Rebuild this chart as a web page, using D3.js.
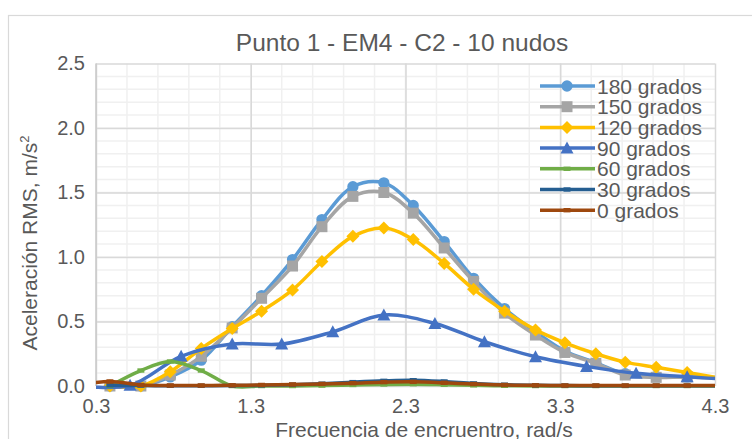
<!DOCTYPE html>
<html>
<head>
<meta charset="utf-8">
<script src="https://cdnjs.cloudflare.com/ajax/libs/d3/7.8.5/d3.min.js"></script>
<style>
    body { margin: 0; background: #fff; }
    text { font-family: "Liberation Sans", Arial, sans-serif; fill: #595959; }
</style>
</head>
<body>
<svg id="chart" width="752" height="439"></svg>
<script>

// frecuencias de encuentro (rad/s)
var xHead = [0.39, 0.59, 0.78, 0.98, 1.18, 1.37, 1.57, 1.76, 1.96, 2.16, 2.35, 2.55, 2.74, 2.94, 3.14, 3.33, 3.53, 3.72, 3.92, 4.12, 4.31];
var x90 = [0.19, 0.52, 0.85, 1.18, 1.50, 1.83, 2.16, 2.49, 2.81, 3.14, 3.47, 3.79, 4.12, 4.45];
var x0 = [0.20, 0.39, 0.59, 0.78, 0.98, 1.18, 1.37, 1.57, 1.76, 1.96, 2.16, 2.35, 2.55, 2.74, 2.94, 3.14, 3.33, 3.53, 3.72, 3.92, 4.12, 4.31];

// aceleracion RMS (m/s2)
var g180 = [0.00, 0.00, 0.07, 0.20, 0.46, 0.70, 0.98, 1.29, 1.545, 1.575, 1.40, 1.12, 0.835, 0.60, 0.42, 0.27, 0.18, 0.095, 0.075, 0.07, 0.065];
var g150 = [0.00, 0.00, 0.085, 0.23, 0.45, 0.68, 0.93, 1.235, 1.47, 1.50, 1.34, 1.07, 0.81, 0.565, 0.395, 0.26, 0.176, 0.085, 0.067, 0.07, 0.06];
var g120 = [0.00, 0.00, 0.11, 0.29, 0.445, 0.58, 0.745, 0.965, 1.16, 1.225, 1.135, 0.95, 0.75, 0.58, 0.435, 0.335, 0.25, 0.185, 0.145, 0.105, 0.065];
var g90 = [0.00, 0.005, 0.23, 0.325, 0.325, 0.42, 0.55, 0.485, 0.343, 0.227, 0.152, 0.098, 0.072, 0.045];
var g60 = [0.00, 0.12, 0.19, 0.12, 0.00, 0.00, 0.00, 0.003, 0.008, 0.012, 0.014, 0.01, 0.005, 0.002, 0.00, 0.00, 0.00, 0.00, 0.00, 0.00, 0.00];
var g30 = [0.005, 0.003, 0.002, 0.002, 0.003, 0.005, 0.01, 0.018, 0.03, 0.04, 0.045, 0.035, 0.02, 0.01, 0.005, 0.003, 0.002, 0.002, 0.002, 0.002, 0.002];
var g0 = [0.01, 0.035, 0.008, 0.004, 0.004, 0.005, 0.008, 0.012, 0.016, 0.022, 0.03, 0.032, 0.025, 0.015, 0.008, 0.005, 0.004, 0.004, 0.004, 0.004, 0.004, 0.004];

var seriesNames = ["180 grados", "150 grados", "120 grados", "90 grados", "60 grados", "30 grados", "0 grados"];
var xTicks = [0.3, 1.3, 2.3, 3.3, 4.3];
var yTicks = [0.0, 0.5, 1.0, 1.5, 2.0, 2.5];

var titulo = "Punto 1 - EM4 - C2 - 10 nudos";
var tituloX = "Frecuencia de encruentro, rad/s";


// marcadores tipo excel
var mkCircle = d3.symbolCircle;
var mkSquare = { draw: function (c) { c.moveTo(-5.5, -5.5); c.lineTo(5.5, -5.5); c.lineTo(5.5, 5.5); c.lineTo(-5.5, 5.5); c.closePath(); } };
var mkDiamond = { draw: function (c) { c.moveTo(0, -6.5); c.lineTo(6.5, 0); c.lineTo(0, 6.5); c.lineTo(-6.5, 0); c.closePath(); } };
var mkTriangle = { draw: function (c) { c.moveTo(0, -6.5); c.lineTo(6.5, 5.5); c.lineTo(-6.5, 5.5); c.closePath(); } };
var mkDash = { draw: function (c) { c.moveTo(-3.5, -2.2); c.lineTo(3.5, -2.2); c.lineTo(3.5, 2.2); c.lineTo(-3.5, 2.2); c.closePath(); } };

var series = [
    { name: seriesNames[0], xs: xHead, ys: g180, color: "#5B9BD5", mk: mkCircle, size: 100 },
    { name: seriesNames[1], xs: xHead, ys: g150, color: "#A5A5A5", mk: mkSquare },
    { name: seriesNames[2], xs: xHead, ys: g120, color: "#FFC000", mk: mkDiamond },
    { name: seriesNames[3], xs: x90, ys: g90, color: "#4472C4", mk: mkTriangle },
    { name: seriesNames[4], xs: xHead, ys: g60, color: "#70AD47", mk: mkDash },
    { name: seriesNames[5], xs: xHead, ys: g30, color: "#255E91", mk: mkDash },
    { name: seriesNames[6], xs: x0, ys: g0, color: "#9E480E", mk: mkDash }
];

var svg = d3.select("#chart");

var x = d3.scaleLinear().domain([0.3, 4.3]).range([96, 715]);
var y = d3.scaleLinear().domain([0, 2.5]).range([386, 63.5]);

// marco del grafico
svg.append("rect")
    .attr("x", 8.5).attr("y", 15.5)
    .attr("width", 800).attr("height", 500)
    .attr("fill", "#fff").attr("stroke", "#d9d9d9").attr("stroke-width", 1.2);

// rejilla menor
var minorX = d3.range(0.5, 4.3, 0.2);
var minorY = d3.range(0.1, 2.5, 0.1);

svg.append("g").selectAll("line").data(minorX).enter().append("line")
    .attr("x1", function (d) { return x(d); }).attr("x2", function (d) { return x(d); })
    .attr("y1", y(0)).attr("y2", y(2.5))
    .attr("stroke", "#f0f0f0").attr("stroke-width", 1.5);
svg.append("g").selectAll("line").data(minorY).enter().append("line")
    .attr("y1", function (d) { return y(d); }).attr("y2", function (d) { return y(d); })
    .attr("x1", x(0.3)).attr("x2", x(4.3))
    .attr("stroke", "#f0f0f0").attr("stroke-width", 1.5);

// rejilla mayor con los ejes de d3
var gx = svg.append("g").attr("transform", "translate(0," + y(0) + ")")
    .call(d3.axisBottom(x).tickValues(xTicks).tickSize(-(y(0) - y(2.5))).tickFormat(""));
gx.select(".domain").remove();
gx.selectAll("line").attr("stroke", "#d9d9d9").attr("stroke-width", 1.5);

var gy = svg.append("g").attr("transform", "translate(" + x(0.3) + ",0)")
    .call(d3.axisLeft(y).tickValues(yTicks).tickSize(-(x(4.3) - x(0.3))).tickFormat(""));
gy.select(".domain").remove();
gy.selectAll("line").attr("stroke", "#d9d9d9").attr("stroke-width", 1.5);

// eje vertical
svg.append("line")
    .attr("x1", x(0.3)).attr("x2", x(0.3)).attr("y1", y(0)).attr("y2", y(2.5))
    .attr("stroke", "#c8c8c8").attr("stroke-width", 1.5);

// etiquetas de los ejes
var lx = svg.append("g").attr("transform", "translate(0," + (y(0) + 10) + ")")
    .call(d3.axisBottom(x).tickValues(xTicks).tickSize(0).tickFormat(d3.format(".1f")));
lx.select(".domain").remove();
lx.selectAll("text").attr("font-size", 20).attr("fill", "#595959")
    .style("font-family", "'Liberation Sans', Arial, sans-serif");

var ly = svg.append("g").attr("transform", "translate(" + (x(0.3) - 8) + ",0)")
    .call(d3.axisLeft(y).tickValues(yTicks).tickSize(0).tickFormat(d3.format(".1f")));
ly.select(".domain").remove();
ly.selectAll("text").attr("font-size", 20).attr("fill", "#595959")
    .style("font-family", "'Liberation Sans', Arial, sans-serif");

// series
svg.append("clipPath").attr("id", "clip")
    .append("rect").attr("x", x(0.3)).attr("y", 0).attr("width", x(4.3) - x(0.3)).attr("height", 439);

var line = d3.line()
    .x(function (d) { return x(d[0]); })
    .y(function (d) { return y(d[1]); })
    .curve(d3.curveCatmullRom.alpha(0.5));

series.forEach(function (s) {
    var pts = s.xs.map(function (v, i) { return [v, s.ys[i]]; });
    var g = svg.append("g").attr("clip-path", "url(#clip)");
    g.append("path").datum(pts)
        .attr("d", line)
        .attr("fill", "none")
        .attr("stroke", s.color)
        .attr("stroke-width", 3.5)
        .attr("stroke-linejoin", "round");
    g.selectAll(".mk").data(pts.filter(function (p) { return p[0] >= 0.3 && p[0] <= 4.3; }))
        .enter().append("path")
        .attr("transform", function (d) { return "translate(" + x(d[0]) + "," + y(d[1]) + ")"; })
        .attr("d", d3.symbol(s.mk, s.size || 64))
        .attr("fill", s.color);
});

// leyenda
var leg = svg.append("g");
series.forEach(function (s, i) {
    var cy = 86 + i * 20.7;
    leg.append("line")
        .attr("x1", 540).attr("x2", 595).attr("y1", cy).attr("y2", cy)
        .attr("stroke", s.color).attr("stroke-width", 3.5);
    leg.append("path")
        .attr("transform", "translate(567," + cy + ")")
        .attr("d", d3.symbol(s.mk, s.size || 64))
        .attr("fill", s.color);
    leg.append("text")
        .attr("x", 597).attr("y", cy + 7.5)
        .attr("font-size", 21)
        .text(s.name);
});

// titulos
svg.append("text")
    .attr("x", 402).attr("y", 51)
    .attr("text-anchor", "middle")
    .attr("font-size", 24.5)
    .text(titulo);

svg.append("text")
    .attr("x", 424).attr("y", 437)
    .attr("text-anchor", "middle")
    .attr("font-size", 21)
    .text(tituloX);

var yt = svg.append("text")
    .attr("transform", "translate(37,243) rotate(-90)")
    .attr("text-anchor", "middle")
    .attr("font-size", 21);
yt.append("tspan").text("Aceleración RMS, m/s");
yt.append("tspan").attr("font-size", 13).attr("dy", -8).text("2");

</script>
</body>
</html>
